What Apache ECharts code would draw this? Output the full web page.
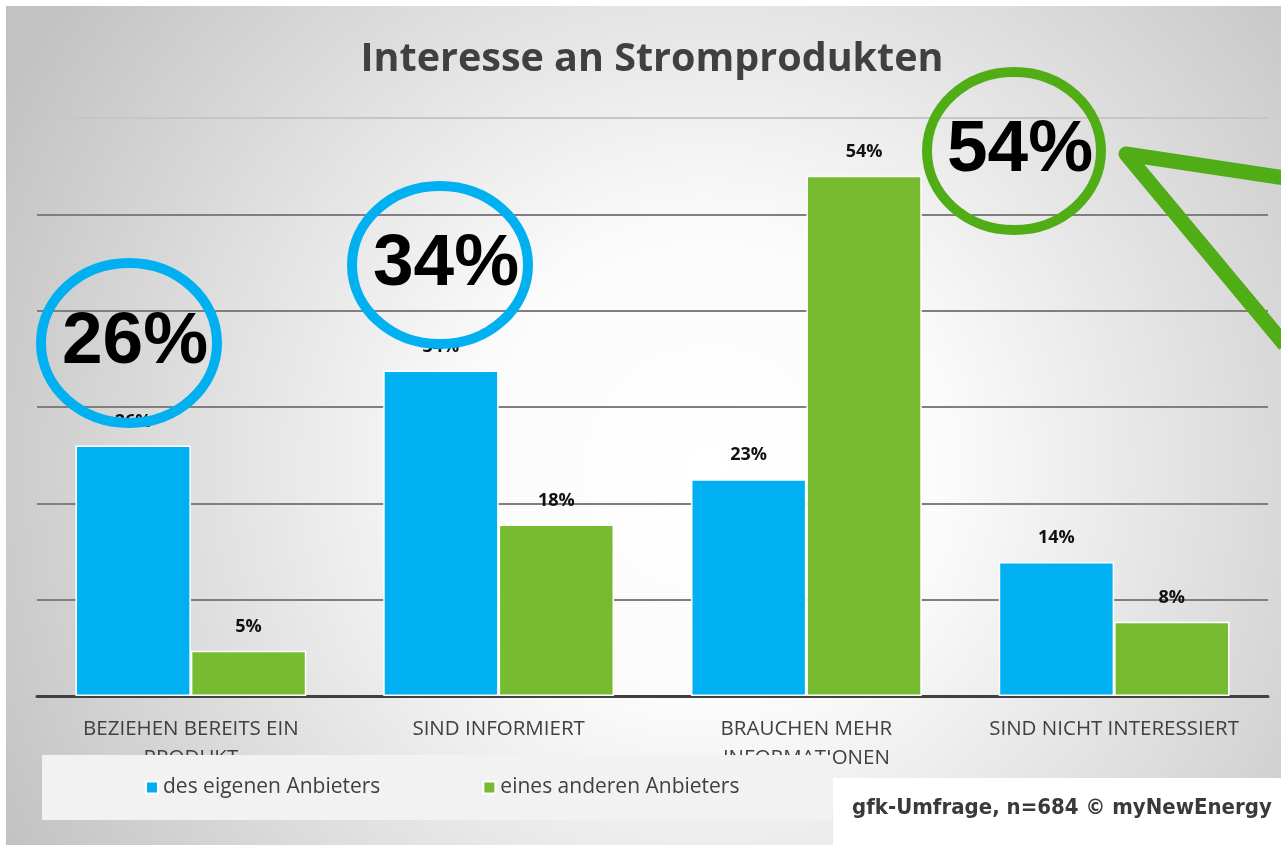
<!DOCTYPE html>
<html style="height: 100%">
<head>
<meta charset="UTF-8">
<title>Interesse an Stromprodukten</title>
<script src="https://cdn.jsdelivr.net/npm/echarts@6/dist/echarts.min.js"></script>
</head>
<body style="height: 100%; margin: 0; background: #fff">
<div id="container" style="width: 1281px; height: 845px"></div>
<script type="text/javascript">
// chart data (bar heights, labels are rounded)
var categories = ['BEZIEHEN BEREITS EIN\nPRODUKT', 'SIND INFORMIERT', 'BRAUCHEN MEHR\nINFORMATIONEN', 'SIND NICHT INTERESSIERT'];
var seriesNames = ['des eigenen Anbieters', 'eines anderen Anbieters'];
var ownProvider = [26, 33.8, 22.5, 13.9];
var otherProvider = [4.7, 17.8, 54, 7.7];
var sourceText = 'gfk-Umfrage, n=684 \u00a9 myNewEnergy';

var blue = '#00B0F0';
var green = '#76BB30';
var ringGreen = '#50AD15';

var dom = document.getElementById('container');
var myChart = echarts.init(dom);

function pct(v) {
    return Math.round(v) + '%';
}

var labelStyle = {
    show: true,
    position: 'top',
    distance: 15,
    formatter: function (p) { return pct(p.value); },
    fontFamily: 'Open Sans',
    fontWeight: 'bold',
    fontSize: 18,
    color: '#111'
};

// big circled call-outs on top of the chart
function ring(cx, cy, rx, ry, color, text) {
    return [{
        type: 'ellipse',
        z: 100,
        shape: {cx: cx, cy: cy, rx: rx, ry: ry},
        style: {fill: 'none', stroke: color, lineWidth: 10}
    }, {
        type: 'text',
        z: 101,
        x: cx + 6,
        y: cy,
        style: {
            text: text,
            align: 'center',
            verticalAlign: 'middle',
            font: 'bold 73px "Liberation Sans", Arial, sans-serif',
            fill: '#000'
        }
    }];
}

var option = {
    animation: false,
    title: {
        text: 'Interesse an Stromprodukten',
        left: 647,
        textAlign: 'center',
        top: 35,
        textStyle: {
            fontFamily: 'Open Sans',
            fontWeight: 'bold',
            fontSize: 39.5,
            color: '#404040'
        }
    },
    legend: {
        data: seriesNames,
        left: 42,
        top: 755,
        padding: [22, 92, 22, 103],
        backgroundColor: '#F2F2F2',
        itemWidth: 12,
        itemHeight: 12,
        itemGap: 102,
        icon: 'rect',
        textStyle: {
            fontFamily: 'Open Sans',
            fontSize: 21,
            color: '#404040'
        }
    },
    grid: {
        left: 37,
        right: 13,
        top: 118,
        bottom: 149
    },
    xAxis: {
        type: 'category',
        data: categories,
        axisTick: {show: false},
        axisLine: {lineStyle: {color: '#404040', width: 3}},
        axisLabel: {
            interval: 0,
            margin: 19,
            fontFamily: 'Open Sans',
            fontSize: 20.5,
            lineHeight: 29,
            color: '#404040'
        }
    },
    yAxis: {
        type: 'value',
        min: 0,
        max: 60,
        interval: 10,
        axisLabel: {show: false},
        axisLine: {show: false},
        axisTick: {show: false},
        splitLine: {
            lineStyle: {
                color: ['#7F7F7F', '#7F7F7F', '#7F7F7F', '#7F7F7F', '#7F7F7F', '#7F7F7F', '#C6C6C6'],
                width: 2
            }
        }
    },
    series: [{
        name: seriesNames[0],
        type: 'bar',
        data: ownProvider,
        barGap: '0%',
        barCategoryGap: '25%',
        itemStyle: {color: blue, borderColor: '#fff', borderWidth: 1.5},
        label: labelStyle
    }, {
        name: seriesNames[1],
        type: 'bar',
        data: otherProvider,
        itemStyle: {color: green, borderColor: '#fff', borderWidth: 1.5},
        label: labelStyle
    }],
    graphic: [{
        // radial grey background panel
        type: 'rect',
        z: -10,
        silent: true,
        shape: {x: 6, y: 6, width: 1275, height: 839},
        style: {
            fill: new echarts.graphic.RadialGradient(0.55, 0.55, 0.95, [
                {offset: 0, color: '#ffffff'},
                {offset: 0.3, color: '#fbfbfb'},
                {offset: 1, color: '#c2c2c2'}
            ])
        }
    }, {
        // source box
        type: 'rect',
        z: 50,
        shape: {x: 833, y: 778, width: 448, height: 67},
        style: {fill: '#fff'}
    }, {
        type: 'text',
        z: 51,
        x: 852,
        y: 808,
        style: {
            text: sourceText,
            verticalAlign: 'middle',
            font: 'bold 22px "DejaVu Sans Condensed", sans-serif',
            fill: '#3a3a3a'
        }
    }, {
        // arrow head pointing at the 54% call-out
        type: 'polyline',
        z: 100,
        shape: {points: [[1285, 178], [1126, 154], [1285, 345]]},
        style: {fill: 'none', stroke: ringGreen, lineWidth: 15, lineJoin: 'round', lineCap: 'butt'}
    }]
        .concat(ring(129, 343, 88, 80, blue, pct(ownProvider[0])))
        .concat(ring(440, 265, 88, 79, blue, pct(ownProvider[1])))
        .concat(ring(1014, 151, 87, 79, ringGreen, pct(otherProvider[2])))
};

myChart.setOption(option);
</script>
</body>
</html>
